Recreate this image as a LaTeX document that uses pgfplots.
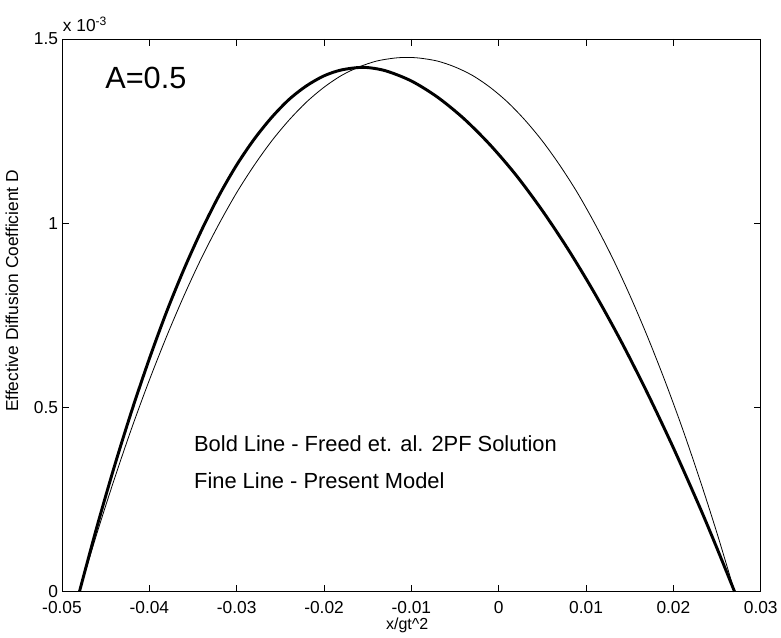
\documentclass[border=0pt]{standalone}
\usepackage{pgfplots}
\pgfplotsset{compat=1.18}
\usepackage{fontspec}
\setmainfont{Liberation Sans}
\begin{document}
\begin{tikzpicture}
\begin{axis}[
  scale only axis, width=524pt, height=414.4pt,
  xmin=-0.05, xmax=0.03, ymin=0, ymax=1.5,
  clip=false,
  scaled x ticks=false, scaled y ticks=false,
  xtick={-0.05,-0.04,-0.03,-0.02,-0.01,0,0.01,0.02,0.03},
  xticklabels={-0.05,-0.04,-0.03,-0.02,-0.01,0,0.01,0.02,0.03},
  ytick={0,0.5,1,1.5},
  yticklabels={0,0.5,1,1.5},
  tick align=inside, major tick length=5pt,
  axis line style={line width=0.6pt},
  every tick/.style={black, line width=0.6pt},
  tick label style={font=\fontsize{13}{15}\selectfont},
  xticklabel style={anchor=north, inner sep=0pt, yshift=-7.5pt},
  yticklabel style={anchor=east, inner sep=0pt, xshift=-2.8pt},
  xlabel={x/gt\textasciicircum 2},
  xlabel style={at={([yshift=-25pt]rel axis cs:0.494,0)}, anchor=center, inner sep=0pt, font=\fontsize{12}{14}\selectfont},
  ylabel={Effective Diffusion Coefficient D},
  ylabel style={at={([xshift=-37.5pt]rel axis cs:0,0.544)}, anchor=center, font=\fontsize{13}{15}\selectfont},
]
% Bold line - Freed et al. 2PF solution (D in units of 1e-3)
\addplot[black, line width=2.2pt, smooth, tension=0.5] coordinates {
(-0.0480,0) (-0.0460,0.176) (-0.0440,0.340) (-0.0420,0.492) (-0.0400,0.632)
(-0.0380,0.761) (-0.0360,0.877) (-0.0340,0.982) (-0.0320,1.076) (-0.0300,1.158)
(-0.0280,1.228) (-0.0260,1.287) (-0.0240,1.336) (-0.0220,1.373) (-0.0200,1.400)
(-0.0180,1.416) (-0.0155,1.423) (-0.0130,1.414) (-0.0100,1.386) (-0.0070,1.342)
(-0.0040,1.284) (-0.0010,1.213) (0.0020,1.130) (0.0050,1.034) (0.0080,0.927)
(0.0110,0.809) (0.0140,0.680) (0.0170,0.540) (0.0200,0.390) (0.0230,0.230)
(0.0250,0.117) (0.0270,0)
};
% Fine line - present model
\addplot[black, line width=0.6pt, smooth, tension=0.5] coordinates {
(-0.0480,0) (-0.0460,0.158) (-0.0440,0.306) (-0.0420,0.445) (-0.0400,0.574)
(-0.0380,0.694) (-0.0360,0.805) (-0.0340,0.907) (-0.0320,0.999) (-0.0300,1.083)
(-0.0280,1.157) (-0.0260,1.223) (-0.0240,1.280) (-0.0220,1.329) (-0.0200,1.369)
(-0.0180,1.401) (-0.0160,1.424) (-0.0140,1.440) (-0.0120,1.448) (-0.0105,1.450)
(-0.0090,1.448) (-0.0070,1.440) (-0.0050,1.424) (-0.0030,1.401) (-0.0010,1.369)
(0.0010,1.329) (0.0030,1.280) (0.0050,1.223) (0.0070,1.157) (0.0090,1.083)
(0.0110,0.999) (0.0130,0.907) (0.0150,0.805) (0.0170,0.694) (0.0190,0.574)
(0.0210,0.445) (0.0230,0.306) (0.0250,0.158) (0.0270,0)
};
\node[anchor=center, font=\fontsize{23}{27}\selectfont] at (axis cs:-0.0404,1.394) {A=0.5};
\node[anchor=west, inner sep=0pt, font=\fontsize{16.4}{19}\selectfont] at (axis cs:-0.0349,0.402) {Bold Line - Freed et. al. 2PF Solution};
\node[anchor=west, inner sep=0pt, font=\fontsize{16.4}{19}\selectfont] at (axis cs:-0.0349,0.302) {Fine Line - Present Model};
\node[anchor=south west, inner sep=0pt, font=\fontsize{13}{15}\selectfont] at (rel axis cs:0,1) [xshift=0.5pt, yshift=5.5pt] {x 10\textsuperscript{-3}};
\coordinate (sw) at (rel axis cs:0,0);
\coordinate (ne) at (rel axis cs:1,1);
\end{axis}
\path ([shift={(-46.5pt,-34.1pt)}]sw) rectangle ([shift={(15.2pt,29.25pt)}]ne);
\end{tikzpicture}
\end{document}
